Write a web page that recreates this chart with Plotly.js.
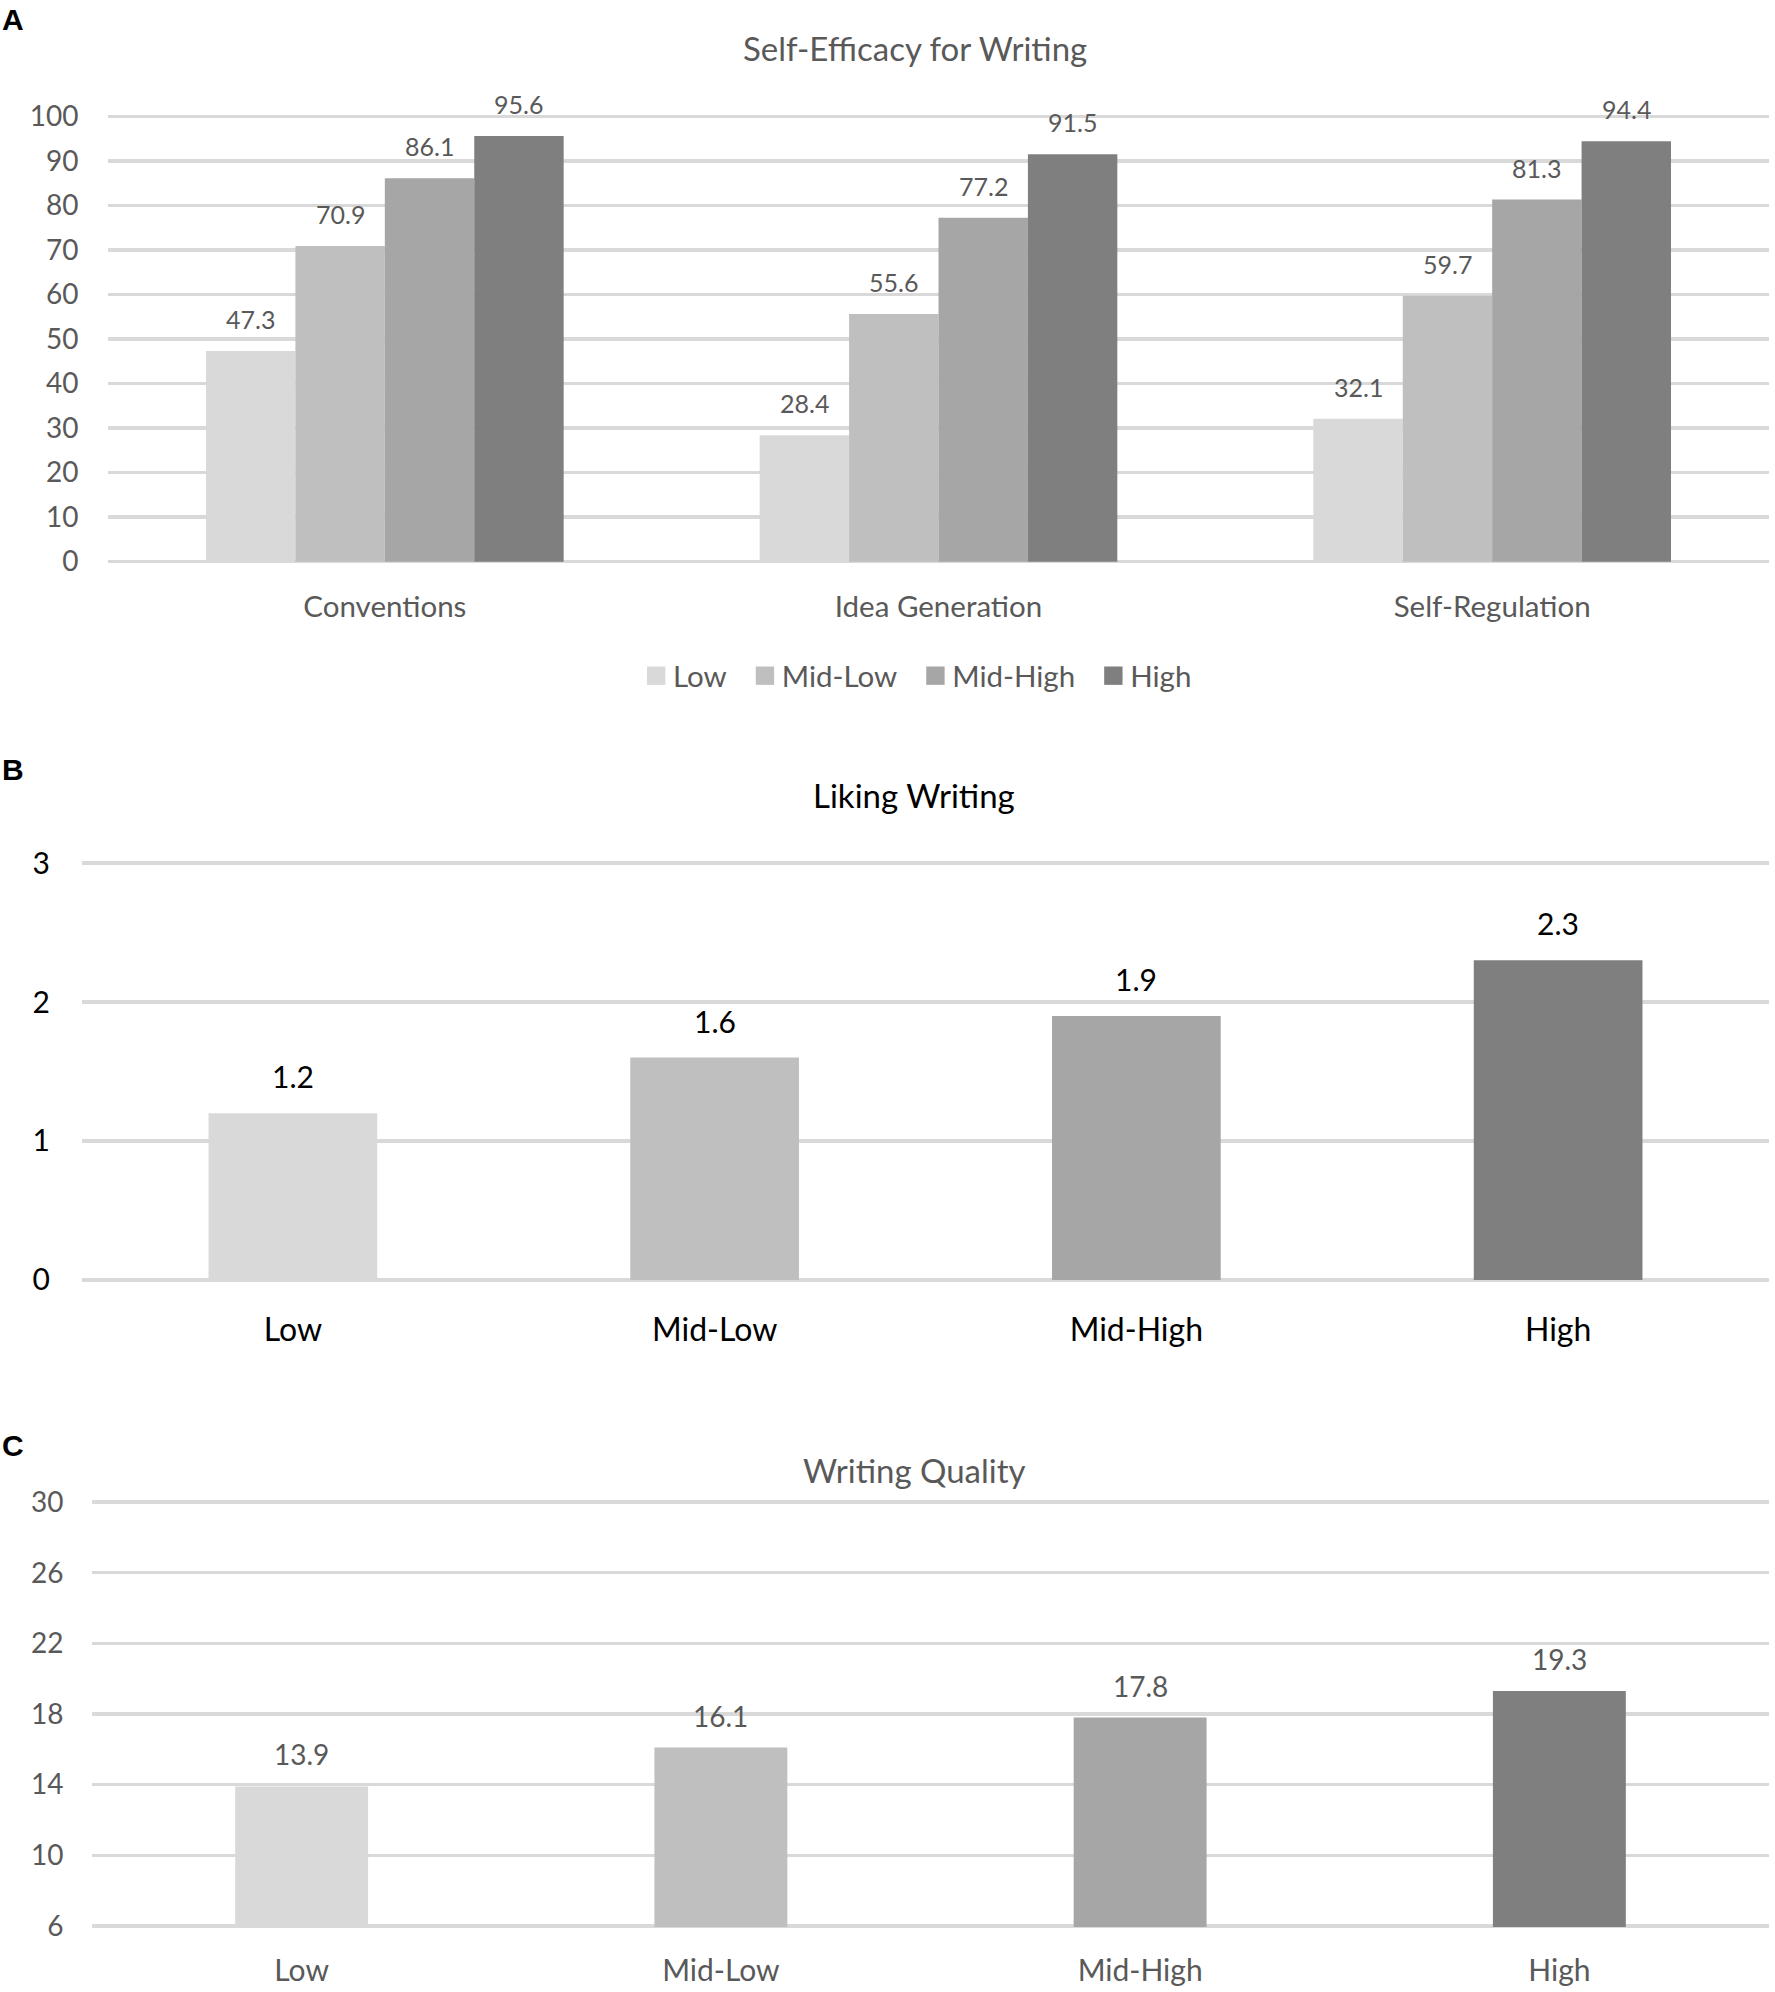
<!DOCTYPE html>
<html><head><meta charset="utf-8">
<script src="https://cdn.plot.ly/plotly-3.0.1.min.js"></script>
<style>html,body{margin:0;padding:0;background:#fff}</style>
</head><body>
<div id="chart" style="width:1775px;height:1992px"></div>
<script>
// ---- data ----
const seCategories = ["Conventions", "Idea Generation", "Self-Regulation"];
const levels = ["Low", "Mid-Low", "Mid-High", "High"];
const seLow = [47.3, 28.4, 32.1];
const seMidLow = [70.9, 55.6, 59.7];
const seMidHigh = [86.1, 77.2, 81.3];
const seHigh = [95.6, 91.5, 94.4];
const likingValues = [1.2, 1.6, 1.9, 2.3];
const qualityValues = [13.9, 16.1, 17.8, 19.3];
const seTicks = [0,10,20,30,40,50,60,70,80,90,100];
const likingTicks = [0,1,2,3];
const qualityTicks = [6,10,14,18,22,26,30];

// ---- style ----
const W = 1775, H = 1992;
const colors = ["#d9d9d9", "#bfbfbf", "#a6a6a6", "#7f7f7f"];
const FONT = "Lato, Carlito, Calibri, 'Open Sans', sans-serif";
const GRAY = "#595959";
const px = v => v / W, py = v => 1 - v / H;

const A = {l:108, r:1769, t:115, b:563};
const B = {l:82, r:1769, t:862, b:1281};
const C = {l:92, r:1769, t:1501, b:1927};
const bargapA = 0.354;

const seSeries = [seLow, seMidLow, seMidHigh, seHigh];
const traces = seSeries.map((vals, i) => ({
  type: "bar", x: seCategories, y: vals, name: levels[i],
  marker: {color: colors[i]}, xaxis: "x", yaxis: "y", hoverinfo: "none"
}));
traces.push({type:"bar", x: levels, y: likingValues, marker:{color: colors},
  width: 0.40, showlegend:false, xaxis:"x2", yaxis:"y2", hoverinfo:"none"});
traces.push({type:"bar", x: levels, y: qualityValues, marker:{color: colors},
  width: 0.317, showlegend:false, xaxis:"x3", yaxis:"y3", hoverinfo:"none"});

const annotations = [];
const catPxA = (A.r - A.l) / seCategories.length;
const bwA = (1 - bargapA) / 4;
seSeries.forEach((vals, i) => {
  vals.forEach((v, j) => {
    annotations.push({xref:"x", yref:"y", x: seCategories[j], y: v, text: v.toFixed(1),
      showarrow:false, yanchor:"middle", yshift: 32, xshift: (i - 1.5) * bwA * catPxA,
      font:{family:FONT, size:25, color:GRAY}});
  });
});
likingValues.forEach((v, j) => annotations.push({xref:"x2", yref:"y2", x: levels[j], y: v,
  text: v.toFixed(1), showarrow:false, yanchor:"middle", yshift: 37,
  font:{family:FONT, size:30, color:"#000"}}));
qualityValues.forEach((v, j) => annotations.push({xref:"x3", yref:"y3", x: levels[j], y: v,
  text: v.toFixed(1), showarrow:false, yanchor:"middle", yshift: 32,
  font:{family:FONT, size:28, color:GRAY}}));
// titles
annotations.push({xref:"paper", yref:"paper", x: px(915), y: py(48), text:"Self-Efficacy for Writing",
  showarrow:false, xanchor:"center", yanchor:"middle", font:{family:FONT, size:33, color:GRAY}});
annotations.push({xref:"paper", yref:"paper", x: px(914), y: py(795), text:"Liking Writing",
  showarrow:false, xanchor:"center", yanchor:"middle", font:{family:FONT, size:33, color:"#000"}});
annotations.push({xref:"paper", yref:"paper", x: px(914), y: py(1470), text:"Writing Quality",
  showarrow:false, xanchor:"center", yanchor:"middle", font:{family:FONT, size:33, color:GRAY}});
// panel letters
[["A",19],["B",770],["C",1445]].forEach(([t,y]) => annotations.push({xref:"paper", yref:"paper",
  x: px(0), y: py(y), text:"<b>"+t+"</b>", showarrow:false, xanchor:"left", yanchor:"middle",
  font:{family:"Liberation Sans, Arial, sans-serif", size:30, color:"#000"}}));

function yax(box, anchor, ticks, range, color, size, len) {
  return {domain:[py(box.b), py(box.t)], anchor: anchor, range: range, tickvals: ticks,
    ticktext: ticks.map(String),
    showgrid:true, gridcolor:"#d9d9d9", gridwidth:3.5, zeroline:false, showline:false,
    ticks:"outside", ticklen: len, tickcolor:"rgba(0,0,0,0)",
    tickfont:{family:FONT, size:size, color:color}, fixedrange:true};
}
function xax(box, anchor, color, size, standoff) {
  return {domain:[px(box.l), px(box.r)], anchor: anchor, type:"category", showgrid:false,
    zeroline:false, showline:false, ticks:"", ticklabelstandoff: standoff,
    tickfont:{family:FONT, size:size, color:color}, fixedrange:true};
}

const layout = {
  width: W, height: H, margin:{l:0, r:0, t:0, b:0}, paper_bgcolor:"#fff", plot_bgcolor:"rgba(0,0,0,0)",
  barmode:"group", bargap: bargapA, bargroupgap: 0,
  xaxis: xax(A, "y", GRAY, 29.5, 23),
  yaxis: yax(A, "x", seTicks, [-0.3, 100.3], GRAY, 28, 23),
  xaxis2: xax(B, "y2", "#000", 32, 27),
  yaxis2: yax(B, "x2", likingTicks, [-0.008, 3.008], "#000", 30, 25),
  xaxis3: xax(C, "y3", GRAY, 30, 23),
  yaxis3: yax(C, "x3", qualityTicks, [5.94, 30.06], GRAY, 28, 22),
  showlegend: true,
  legend: {orientation:"h", x: px(900), y: py(676), xanchor:"center", yanchor:"middle",
    font:{family:FONT, size:29.5, color:GRAY}, itemwidth:30, traceorder:"normal"},
  annotations: annotations
};
Plotly.newPlot("chart", traces, layout, {staticPlot:true}).then(gd => {
  gd.querySelectorAll(".legend .legendpoints path").forEach(p => {
    const t = p.getAttribute("transform") || "";
    p.setAttribute("transform", t + " translate(3.2,0) scale(1.53)");
  });
  gd.querySelectorAll(".legend .traces").forEach((g, i) => {
    const t = g.getAttribute("transform") || "";
    const m = t.match(/translate\(\s*([-\d.]+)[ ,]+([-\d.]+)\s*\)/);
    if (m) g.setAttribute("transform", "translate(" + (parseFloat(m[1]) + i * 10) + "," + m[2] + ")");
  });
  gd.querySelectorAll(".legend .scrollbox, .legend [clip-path]").forEach(el => el.removeAttribute("clip-path"));
});
</script>
</body></html>
